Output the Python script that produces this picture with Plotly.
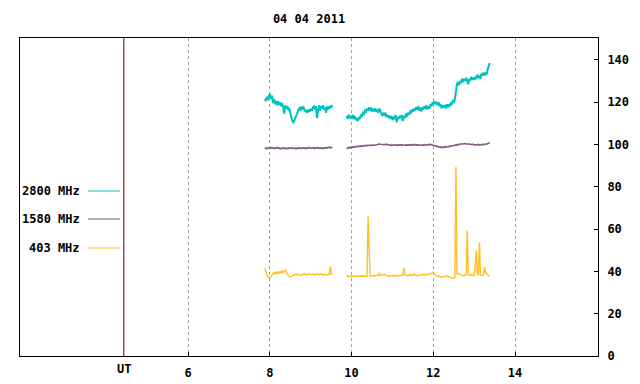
import plotly.graph_objects as go

TITLE = "04 04 2011"
X_TICKS = [6, 8, 10, 12, 14]
Y_TICKS = [0, 20, 40, 60, 80, 100, 120, 140]
UT_POS = 4.43

# sampling of the two observing segments (hours UT)
SEG1_START, SEG2_START, STEP = 7.88, 9.88, 0.025

names = ["2800 MHz", "1580 MHz", "403 MHz"]
colors = ["#00c0c0", "#7f5f7f", "#ffc020"]
widths = [2, 1.6, 1.4]

f2800_seg1 = [121.5, 120.5, 122.5, 121, 123, 124, 121.5, 123, 119.5, 121.5, 119, 120.5, 118.5, 120.5,
              118.5, 120, 118, 119.5, 117.5, 114.5, 118.5, 117, 118, 116.5, 117, 114, 112.5, 111,
              110.5, 111.5, 112.5, 113.5, 115, 116.5, 117.5, 116, 118, 117, 117.5, 116, 115.5, 116,
              115, 116.5, 115.5, 117, 116, 117.5, 118, 116.5, 118, 112.5, 117, 118.5, 116, 118, 117,
              118.5, 116.5, 117.5, 115, 118, 116.5, 118, 117, 118.5, 117.5]
f2800_seg2 = [113.5, 112, 114, 112.5, 113.5, 112, 114, 112.5, 113, 111.5, 112.5, 111, 113, 112, 114,
              113.5, 115, 114.5, 116, 115.5, 117, 116, 117.5, 116.5, 117, 115.5, 116.5, 116, 117,
              115.5, 116.5, 115, 117, 116, 115, 113.5, 115, 114, 114.5, 113, 114, 112.5, 113.5, 112,
              113.5, 111.5, 113, 112, 114, 110.5, 113, 112, 113.5, 112.5, 114, 111, 113.5, 112.5,
              114.5, 113, 115, 114, 115.5, 115, 116.5, 115.5, 117, 116, 117.5, 116.5, 118, 116,
              117.5, 115.5, 117.5, 116.5, 118, 117, 118.5, 116.5, 118, 117, 119, 118, 120, 119,
              120.5, 119, 120, 118.5, 120, 118, 119, 117, 118.5, 117.5, 118.5, 117, 119, 117.5, 119,
              118, 119.5, 119, 120.5, 120, 121.5, 127, 128.5, 129.5, 128, 130, 129, 131, 129.5, 131,
              130, 131.5, 130, 128.5, 131, 130.5, 132, 130.5, 131.5, 130.5, 132, 131, 133, 131.5,
              132.5, 131, 133.5, 132.5, 134, 132.5, 134, 133, 135.5, 137, 138.5]

f1580_seg1 = [98.0, 98.4, 97.9, 98.3, 98.1, 98.5, 98.2, 98.6, 98.3, 98.0, 98.4, 98.2, 98.5, 98.1, 98.3,
              97.9, 98.2, 98.0, 98.4, 98.1, 98.3, 97.8, 98.1, 98.4, 98.0, 98.2, 98.5, 98.1, 98.3,
              98.0, 98.2, 97.9, 98.3, 98.1, 98.4, 98.0, 98.2, 98.5, 98.1, 98.3, 98.0, 98.4, 98.2,
              98.6, 98.3, 98.1, 98.4, 98.2, 98.5, 98.0, 98.3, 98.6, 98.2, 98.4, 98.1, 98.5, 98.3,
              98.0, 98.4, 98.2, 98.6, 98.3, 98.5, 98.8, 98.4, 98.6, 98.3]
f1580_seg2 = [98.4, 98.1, 98.6, 98.3, 98.7, 98.4, 98.9, 98.6, 99.0, 98.8, 99.1, 98.9, 99.2, 99.0, 99.3,
              99.1, 99.4, 99.2, 99.5, 99.3, 99.6, 99.4, 99.5, 99.7, 99.4, 99.6, 99.8, 99.5, 99.7,
              99.9, 100.1, 100.0, 100.2, 100.1, 100.0, 100.2, 100.1, 100.0, 99.9, 100.1, 99.8, 99.7,
              99.6, 99.8, 99.5, 99.7, 99.6, 99.9, 99.7, 99.5, 99.8, 99.6, 99.7, 99.9, 99.6, 99.8,
              99.7, 99.5, 99.8, 99.6, 99.7, 99.9, 99.8, 99.6, 99.9, 99.7, 99.8, 100.0, 99.7, 99.9,
              99.6, 99.8, 99.7, 99.5, 99.8, 99.6, 99.9, 99.7, 99.6, 99.8, 99.9, 99.7, 100.0, 99.8,
              99.6, 99.7, 99.5, 99.3, 99.2, 98.9, 99.0, 98.7, 98.8, 98.5, 98.7, 98.6, 98.9, 98.7,
              99.0, 98.8, 99.1, 99.0, 99.3, 99.2, 99.4, 99.6, 99.5, 99.8, 99.7, 100.0, 99.9, 100.2,
              100.1, 100.3, 100.2, 100.4, 100.3, 100.2, 100.4, 100.1, 100.3, 100.0, 99.9, 100.1,
              99.8, 99.9, 99.7, 99.9, 99.8, 100.0, 99.7, 99.9, 99.8, 100.0, 99.9, 100.1, 100.0,
              100.2, 100.3, 100.6, 100.8]

f403_seg1 = [41.5, 39.5, 38.5, 37.5, 37, 36.8, 37.5, 38.5, 38.8, 39.5, 38.8, 39.5, 39, 40, 39, 39.8,
             39.2, 40.2, 39.5, 40, 40.8, 39.8, 38.5, 38, 37.5, 37.4, 37.5, 38, 38.3, 38.6, 38.6,
             38.3, 38.8, 38.5, 38.2, 38, 38.4, 38.7, 38.5, 38.9, 38.4, 38.3, 38.6, 38.8, 38.5, 38.4,
             38.6, 38.9, 38.6, 38.3, 38.7, 38.5, 38.8, 38.4, 38.6, 38.9, 38.5, 38.2, 38.4, 38.7,
             38.5, 38.3, 38.6, 38.4, 42.4, 38.6, 38.5]
f403_seg2 = [37.6, 37.8, 37.5, 37.7, 37.6, 37.8, 37.5, 37.7, 37.6, 37.9, 37.7, 37.5, 37.8, 37.6, 37.7,
             37.9, 37.6, 37.8, 37.7, 37.9, 37.6,
             66, 52,
             37.6, 37.8, 37.9, 38.1, 37.8, 38, 37.9, 38.2, 38, 39.3, 38.1,
             38.2, 38, 38.4, 38.6, 38.2, 37.9, 38.1, 37.8, 37.6, 37.8, 38, 37.7, 37.9, 38.1, 37.8,
             38, 38.2, 37.9, 38.1, 38, 38.3, 38.1,
             41.6,
             38.4, 38.1, 38, 37.9, 38.2, 38.5, 38.1, 38, 38.3, 38.8, 38.2, 38, 37.9, 38.1, 38.3,
             38.4, 38.5, 38.4, 38.6, 38.5, 38.4, 38.6, 38.5, 38.7, 38.6, 38.8, 39,
             39.6, 39.2, 38.6, 38.3, 37.8, 37.5, 37.9, 37.6, 37.3, 37.5, 37.1, 37.4, 37.8, 37.6,
             37.9, 37.7, 37.4, 37.2, 37, 36.8, 36.6, 36.9, 37.3,
             89.5,
             38.9, 39, 38.8, 38.9, 38.4, 38.1, 37.9, 38.2, 38, 38.3,
             59.3,
             38.4, 38.1, 38, 38.5, 38.2, 38, 38.3,
             45.2, 50,
             38.5, 38.2,
             53.7,
             38.4, 38, 38.1, 38.6,
             42,
             39.5, 38.8, 38.3, 37.9, 38.1]

series = [(f2800_seg1, f2800_seg2), (f1580_seg1, f1580_seg2), (f403_seg1, f403_seg2)]
for s1, s2 in series:
    assert len(s1) == 67 and len(s2) == 141, (len(s1), len(s2))

t1 = [round(SEG1_START + STEP * i, 4) for i in range(67)]
t2 = [round(SEG2_START + STEP * i, 4) for i in range(141)]

FONT = dict(family="DejaVu Sans Mono", size=12, color="black", weight="bold")

fig = go.Figure()
for (s1, s2), name, col, w in zip(series, names, colors, widths):
    fig.add_trace(go.Scatter(
        x=t1 + [None] + t2, y=s1 + [None] + s2, mode="lines", name=name,
        line=dict(color=col, width=w), connectgaps=False, showlegend=False,
        hoverinfo="skip"))

# UT marker line
fig.add_shape(type="line", xref="x", yref="paper", x0=UT_POS, x1=UT_POS, y0=0, y1=1,
              line=dict(color="#600000", width=1))
fig.add_annotation(x=UT_POS, xref="x", y=-0.012, yref="paper", text="UT", showarrow=False,
                   yanchor="top", font=FONT)

# legend on left
L_X0, L_X1, L_TX = 68 / 578, 100 / 578, 62 / 578
leg_y = [(356 - 191) / 318, (356 - 219) / 318, (356 - 248) / 318]
for name, col, yy in zip(names, colors, leg_y):
    fig.add_annotation(x=L_TX, xref="paper", y=yy, yref="paper", text=name, showarrow=False,
                       xanchor="right", yanchor="middle", font=FONT)
    fig.add_shape(type="line", xref="paper", yref="paper", x0=L_X0, x1=L_X1, y0=yy, y1=yy,
                  line=dict(color=col, width=1))

fig.update_layout(
    width=640, height=384,
    margin=dict(l=20, r=42, t=38, b=28),
    paper_bgcolor="white", plot_bgcolor="white",
    font=FONT,
    title=dict(text=TITLE, x=(20 + 578 / 2) / 640, xanchor="center", y=1 - 19 / 384,
               yanchor="middle", yref="container", font=FONT),
    showlegend=False,
    xaxis=dict(range=[1.89, 16.03], tickvals=X_TICKS, ticktext=[str(v) for v in X_TICKS],
               ticks="inside", ticklen=4, tickcolor="black", showline=True, linecolor="black",
               linewidth=1, mirror=True, showgrid=True, gridcolor="#a0a0a0", griddash="dot",
               gridwidth=1, zeroline=False, tickfont=FONT, ticklabelstandoff=6,
               automargin=False),
    yaxis=dict(range=[0, 150.3], side="right", tickvals=Y_TICKS, ticks="inside", ticklen=4,
               tickcolor="black", showline=True, linecolor="black", linewidth=1, mirror=True,
               showgrid=False, zeroline=False, tickfont=FONT, ticklabelstandoff=6,
               automargin=False),
)

fig.write_html("out.html", config={"displayModeBar": False},
               post_script="document.body.style.margin='0';document.body.style.padding='0';")
